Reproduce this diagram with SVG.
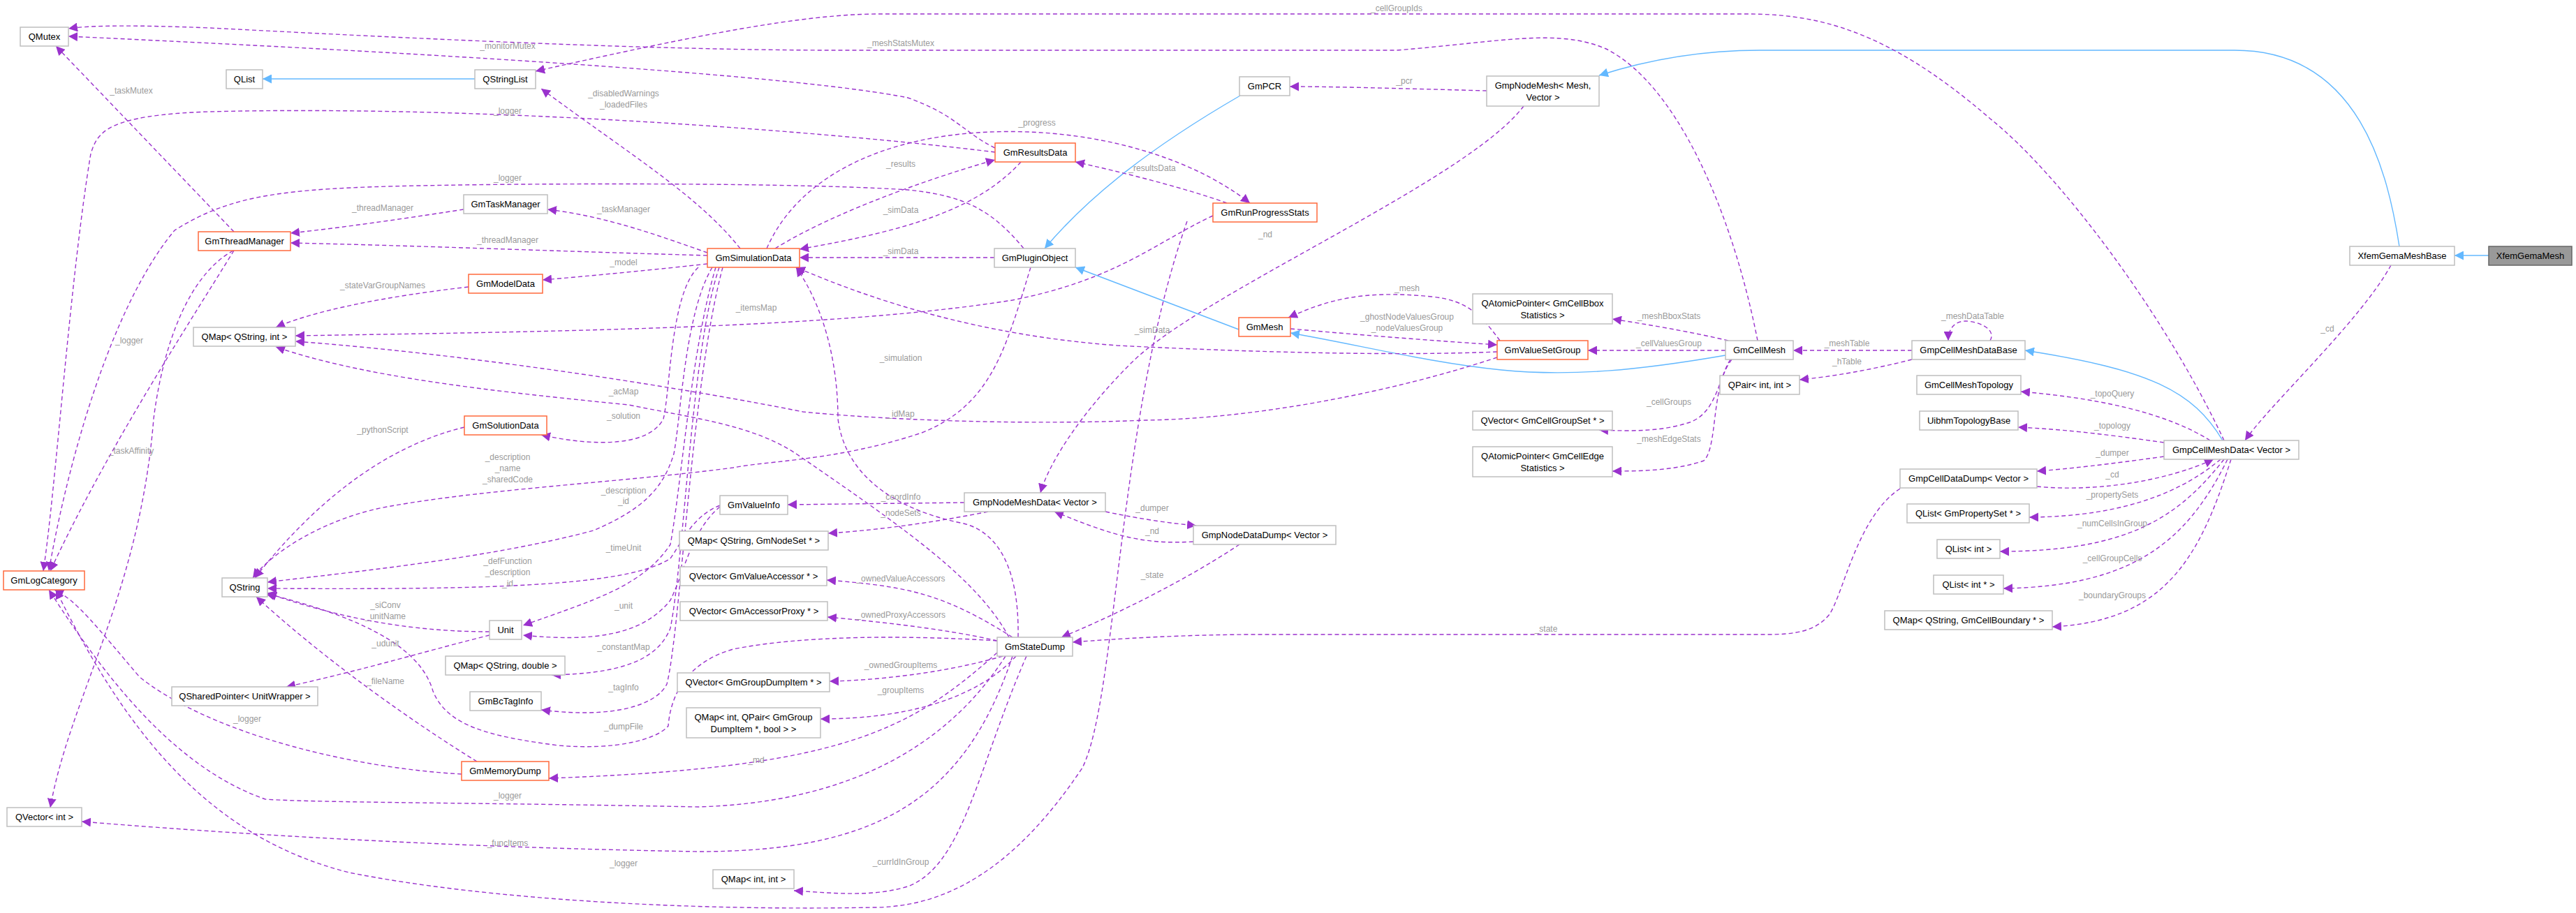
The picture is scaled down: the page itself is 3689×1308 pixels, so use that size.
<svg xmlns="http://www.w3.org/2000/svg" width="3689" height="1308" viewBox="0 0 3689 1308">
<style>
text{font-family:"Liberation Sans",Arial,sans-serif}
.n rect{fill:#fff;stroke:#bfbfbf;stroke-width:1.5}
.n.o rect{stroke:#ff6a3d}
.n.g rect{fill:#999;stroke:#666}
.n text{font-size:13px;text-anchor:middle;fill:#000}
.e{fill:none;stroke:#9a32cd;stroke-width:1.4;stroke-dasharray:6,4;marker-end:url(#ap)}
.i{fill:none;stroke:#63b8ff;stroke-width:1.4;marker-end:url(#ab)}
.l text{font-size:12px;fill:#9a9a9a;text-anchor:middle}
</style>
<defs>
<marker id="ap" viewBox="0 0 10 10" refX="10" refY="5" markerWidth="13" markerHeight="13" markerUnits="userSpaceOnUse" orient="auto"><path d="M0,0L10,5L0,10z" fill="#9a32cd"/></marker>
<marker id="ab" viewBox="0 0 10 10" refX="10" refY="5" markerWidth="13" markerHeight="13" markerUnits="userSpaceOnUse" orient="auto"><path d="M0,0L10,5L0,10z" fill="#63b8ff"/></marker>
</defs>
<rect width="3689" height="1308" fill="#fff"/>
<g id="edges">
<path class="i" d="M3564,366L3515,366"/>
<path class="i" d="M3436,353C3420,250 3380,72 3200,72L2520,72C2420,72 2340,92 2290,108"/>
<path class="e" d="M3424,380C3380,460 3250,580 3215,631"/>
<path class="e" d="M2129,130C2050,128 1920,124 1847,124"/>
<path class="e" d="M2182,152C2100,260 1720,420 1620,520C1540,600 1500,670 1490,706"/>
<path class="i" d="M1776,137C1650,210 1560,280 1496,356"/>
<path class="i" d="M1774,472L1540,383"/>
<path class="i" d="M2471,509C2350,530 2250,540 2150,530C2050,520 1950,495 1848,477"/>
<path class="i" d="M3183,631C3140,560 3080,530 2900,502"/>
<path class="e" d="M3185,631C3100,450 2950,250 2850,170C2700,40 2600,20 2500,20L1260,20C1150,20 1000,50 767,102"/>
<path class="e" d="M2517,488C2480,300 2400,120 2300,70C2230,40 2150,60 2000,72L1200,72C900,72 500,50 300,40C200,36 130,36 98,41"/>
<path class="e" d="M1425,212C1380,190 1370,165 1300,140C1150,110 700,80 98,52"/>
<path class="e" d="M1425,218C1200,190 700,150 300,160C150,165 140,190 130,220C100,400 80,700 62,818"/>
<path class="e" d="M1466,356C1420,300 1380,280 1300,272C1150,262 800,262 600,266C400,270 330,280 250,330C150,450 90,700 70,818"/>
<path class="e" d="M335,359C260,480 150,650 72,818"/>
<path class="e" d="M335,332L80,66"/>
<path class="e" d="M334,359C260,400 230,520 220,600C200,850 100,1000 72,1157"/>
<path class="e" d="M664,300C600,310 500,325 416,334"/>
<path class="e" d="M1013,366C800,360 600,352 416,348"/>
<path class="e" d="M1013,362C950,340 870,310 784,300"/>
<path class="e" d="M1013,378C950,385 850,395 777,401"/>
<path class="e" d="M671,411C550,425 450,445 395,469"/>
<path class="e" d="M1737,309C1650,350 1600,400 1450,430C1200,470 800,475 423,481"/>
<path class="e" d="M2144,512C2000,560 1800,600 1640,602C1450,610 1250,600 1150,590C1000,560 700,510 423,489"/>
<path class="e" d="M1445,913C1400,830 1300,760 1140,650C1080,610 1000,600 900,580C700,560 520,540 395,497"/>
<path class="e" d="M665,612C550,640 450,720 365,828"/>
<path class="e" d="M1000,383C960,420 960,560 950,600C930,640 850,640 775,623"/>
<path class="e" d="M1476,383C1440,500 1420,580 1320,620C1200,660 1100,660 1050,670C900,690 700,700 560,725C470,740 390,790 362,828"/>
<path class="e" d="M1020,383C980,450 975,600 965,650C950,700 920,730 850,760C700,800 500,820 383,834"/>
<path class="e" d="M1031,724C990,740 975,780 960,800C900,840 700,845 383,843"/>
<path class="e" d="M1025,383C990,500 975,700 960,780C920,840 850,860 749,896"/>
<path class="e" d="M1031,726C990,760 980,820 960,860C920,910 850,920 749,910"/>
<path class="e" d="M701,905C600,905 500,890 383,850"/>
<path class="e" d="M701,910C620,930 520,960 410,984"/>
<path class="e" d="M1030,383C990,500 980,800 960,900C940,950 880,965 790,967"/>
<path class="e" d="M1035,383C990,550 975,900 955,980C940,1010 880,1030 775,1017"/>
<path class="e" d="M1428,918C1300,910 1150,910 1050,930C980,950 960,1000 957,1040C940,1060 880,1075 800,1068C700,1055 640,1040 620,990C600,920 500,880 380,850"/>
<path class="e" d="M683,1091C600,1040 470,950 367,855"/>
<path class="e" d="M661,1109C500,1100 300,1050 200,970C140,900 110,860 78,845"/>
<path class="e" d="M1428,935C1300,1050 1200,1100 786,1115"/>
<path class="e" d="M1440,940C1350,1080 1200,1150 1000,1156C700,1150 450,1150 380,1145C250,1100 150,970 70,845"/>
<path class="e" d="M1450,940C1380,1150 1250,1220 1000,1220C700,1215 400,1200 117,1177"/>
<path class="e" d="M1700,317C1600,600 1600,1000 1550,1100C1450,1250 1350,1300 1250,1300C1000,1305 700,1290 500,1250C300,1200 180,1050 80,845"/>
<path class="e" d="M1470,940C1400,1100 1380,1240 1300,1270C1250,1285 1200,1280 1137,1276"/>
<path class="e" d="M1450,913C1350,850 1300,840 1184,831"/>
<path class="e" d="M1428,918C1350,900 1250,890 1185,884"/>
<path class="e" d="M1436,940C1350,965 1250,975 1188,976"/>
<path class="e" d="M1455,940C1400,1000 1300,1030 1175,1030"/>
<path class="e" d="M1458,913C1460,800 1420,760 1380,750C1280,730 1210,680 1200,600C1200,520 1180,440 1140,383"/>
<path class="e" d="M1381,720L1128,723"/>
<path class="e" d="M1415,733C1330,750 1250,760 1186,764"/>
<path class="e" d="M1583,733C1640,745 1680,750 1713,753"/>
<path class="e" d="M1709,776C1640,780 1600,770 1510,733"/>
<path class="e" d="M1775,780C1700,830 1600,880 1520,913"/>
<path class="e" d="M2721,700C2660,740 2640,850 2620,880C2600,905 2570,909 2530,909L1800,909C1700,909 1600,915 1536,920"/>
<path class="e" d="M3099,654C3020,665 2960,672 2917,675"/>
<path class="e" d="M2917,697C3000,705 3100,690 3170,658"/>
<path class="e" d="M3180,658C3130,700 3050,740 2906,741"/>
<path class="e" d="M3185,658C3120,740 3050,790 2864,790"/>
<path class="e" d="M3190,658C3130,780 3050,840 2869,843"/>
<path class="e" d="M3195,658C3150,800 3100,890 2939,898"/>
<path class="e" d="M3165,631C3100,590 3000,570 2894,561"/>
<path class="e" d="M3099,634C3000,620 2950,615 2890,612"/>
<path class="e" d="M2738,502L2568,502"/>
<path class="e" d="M2738,515C2680,530 2620,540 2577,544"/>
<path class="e" d="M2850,488C2860,470 2830,460 2815,460C2800,460 2790,470 2790,488"/>
<path class="e" d="M2471,502L2274,502"/>
<path class="e" d="M2475,488C2420,475 2360,465 2309,457"/>
<path class="e" d="M2480,515C2460,540 2460,590 2420,605C2380,618 2340,618 2290,616"/>
<path class="e" d="M2478,515C2450,560 2460,640 2440,660C2400,674 2350,675 2309,675"/>
<path class="e" d="M2148,488C2120,450 2100,430 2050,425C1950,415 1900,430 1845,455"/>
<path class="e" d="M1848,471C1950,480 2050,488 2144,494"/>
<path class="e" d="M2144,504C2000,510 1800,505 1600,495C1400,480 1250,430 1140,383"/>
<path class="e" d="M1110,356C1200,300 1350,250 1425,229"/>
<path class="e" d="M1462,232C1400,300 1300,330 1145,357"/>
<path class="e" d="M1424,369L1145,369"/>
<path class="e" d="M1757,291C1700,270 1600,245 1540,232"/>
<path class="e" d="M1098,356C1140,260 1250,200 1400,190C1550,180 1700,220 1790,291"/>
<path class="e" d="M1060,356C1000,280 900,220 775,127"/>
<path class="i" d="M680,113L376,113"/>
</g>
<g class="l" id="labels">
<text x="3333" y="475">_cd</text><text x="2011" y="120">_pcr</text><text x="1812" y="340">_nd</text>
<text x="2000" y="16">_cellGroupIds</text><text x="1290" y="66">_meshStatsMutex</text><text x="727" y="70">_monitorMutex</text>
<text x="727" y="163">_logger</text><text x="727" y="259">_logger</text><text x="185" y="492">_logger</text>
<text x="188" y="134">_taskMutex</text><text x="188" y="650">_taskAffinity</text>
<text x="548" y="302">_threadManager</text><text x="727" y="348">_threadManager</text><text x="893" y="304">_taskManager</text>
<text x="893" y="380">_model</text><text x="548" y="413">_stateVarGroupNames</text><text x="1083" y="445">_itemsMap</text>
<text x="1290" y="597">_idMap</text><text x="893" y="565">_acMap</text><text x="548" y="620">_pythonScript</text><text x="893" y="600">_solution</text>
<text x="727" y="659">_description</text><text x="727" y="675">_name</text><text x="727" y="691">_sharedCode</text>
<text x="893" y="707">_description</text><text x="893" y="722">_id</text>
<text x="727" y="808">_defFunction</text><text x="727" y="824">_description</text><text x="727" y="840">_id</text>
<text x="893" y="789">_timeUnit</text><text x="893" y="872">_unit</text>
<text x="552" y="871">_siConv</text><text x="552" y="887">_unitName</text><text x="552" y="926">_udunit</text>
<text x="893" y="931">_constantMap</text><text x="893" y="989">_tagInfo</text><text x="893" y="1045">_dumpFile</text>
<text x="552" y="980">_fileName</text><text x="354" y="1034">_logger</text><text x="1083" y="1093">_md</text>
<text x="727" y="1144">_logger</text><text x="727" y="1212">_funcItems</text><text x="893" y="1241">_logger</text>
<text x="1290" y="1239">_currIdInGroup</text><text x="1290" y="833">_ownedValueAccessors</text><text x="1290" y="885">_ownedProxyAccessors</text>
<text x="1290" y="957">_ownedGroupItems</text><text x="1290" y="993">_groupItems</text><text x="1290" y="517">_simulation</text>
<text x="1290" y="716">_coordInfo</text><text x="1290" y="739">_nodeSets</text><text x="1650" y="732">_dumper</text><text x="1650" y="765">_nd</text>
<text x="1650" y="828">_state</text><text x="2214" y="905">_state</text>
<text x="3025" y="653">_dumper</text><text x="3025" y="684">_cd</text><text x="3025" y="713">_propertySets</text>
<text x="3025" y="754">_numCellsInGroup</text><text x="3025" y="804">_cellGroupCells</text><text x="3025" y="857">_boundaryGroups</text>
<text x="3025" y="568">_topoQuery</text><text x="3025" y="614">_topology</text>
<text x="2645" y="496">_meshTable</text><text x="2645" y="522">_hTable</text><text x="2825" y="457">_meshDataTable</text>
<text x="2390" y="496">_cellValuesGroup</text><text x="2390" y="457">_meshBboxStats</text><text x="2390" y="580">_cellGroups</text><text x="2390" y="633">_meshEdgeStats</text>
<text x="2015" y="417">_mesh</text><text x="2015" y="458">_ghostNodeValuesGroup</text><text x="2015" y="474">_nodeValuesGroup</text>
<text x="1650" y="477">_simData</text><text x="1290" y="239">_results</text><text x="1290" y="305">_simData</text><text x="1290" y="364">_simData</text>
<text x="1650" y="245">_resultsData</text><text x="1485" y="180">_progress</text>
<text x="893" y="138">_disabledWarnings</text><text x="893" y="154">_loadedFiles</text>
</g>
<g id="QMutex" class="n"><rect x="29" y="39" width="69" height="27"/><text x="63.5" y="57">QMutex</text></g>
<g id="QList" class="n"><rect x="324" y="100" width="52" height="27"/><text x="350" y="118">QList</text></g>
<g id="QStringList" class="n"><rect x="680" y="100" width="87" height="27"/><text x="723.5" y="118">QStringList</text></g>
<g id="GmThreadManager" class="n o"><rect x="284" y="332" width="132" height="27"/><text x="350" y="350">GmThreadManager</text></g>
<g id="GmTaskManager" class="n"><rect x="664" y="279" width="120" height="27"/><text x="724" y="297">GmTaskManager</text></g>
<g id="GmModelData" class="n o"><rect x="671" y="393" width="106" height="27"/><text x="724" y="411">GmModelData</text></g>
<g id="QMapQStringInt" class="n"><rect x="277" y="469" width="146" height="27"/><text x="350" y="487">QMap&lt; QString, int &gt;</text></g>
<g id="GmSolutionData" class="n o"><rect x="665" y="596" width="118" height="27"/><text x="724" y="614">GmSolutionData</text></g>
<g id="GmLogCategory" class="n o"><rect x="5" y="818" width="116" height="27"/><text x="63" y="836">GmLogCategory</text></g>
<g id="QString" class="n"><rect x="318" y="828" width="65" height="27"/><text x="350.5" y="846">QString</text></g>
<g id="Unit" class="n"><rect x="701" y="889" width="46" height="27"/><text x="724" y="907">Unit</text></g>
<g id="QMapQStringDouble" class="n"><rect x="638" y="940" width="171" height="27"/><text x="723.5" y="958">QMap&lt; QString, double &gt;</text></g>
<g id="QSharedPointerUnitWrapper" class="n"><rect x="246" y="984" width="209" height="27"/><text x="350.5" y="1002">QSharedPointer&lt; UnitWrapper &gt;</text></g>
<g id="GmBcTagInfo" class="n"><rect x="673" y="991" width="102" height="27"/><text x="724" y="1009">GmBcTagInfo</text></g>
<g id="GmMemoryDump" class="n o"><rect x="661" y="1091" width="125" height="27"/><text x="723.5" y="1109">GmMemoryDump</text></g>
<g id="QVectorInt" class="n"><rect x="10" y="1157" width="107" height="27"/><text x="63.5" y="1175">QVector&lt; int &gt;</text></g>
<g id="GmPCR" class="n"><rect x="1775" y="110" width="72" height="27"/><text x="1811" y="128">GmPCR</text></g>
<g id="GmResultsData" class="n o"><rect x="1425" y="205" width="115" height="27"/><text x="1482.5" y="223">GmResultsData</text></g>
<g id="GmRunProgressStats" class="n o"><rect x="1737" y="291" width="149" height="27"/><text x="1811.5" y="309">GmRunProgressStats</text></g>
<g id="GmSimulationData" class="n o"><rect x="1013" y="356" width="132" height="27"/><text x="1079" y="374">GmSimulationData</text></g>
<g id="GmPluginObject" class="n"><rect x="1424" y="356" width="116" height="27"/><text x="1482" y="374">GmPluginObject</text></g>
<g id="GmMesh" class="n o"><rect x="1774" y="455" width="74" height="27"/><text x="1811" y="473">GmMesh</text></g>
<g id="GmValueInfo" class="n"><rect x="1031" y="710" width="97" height="27"/><text x="1079.5" y="728">GmValueInfo</text></g>
<g id="GmpNodeMeshData" class="n"><rect x="1381" y="706" width="202" height="27"/><text x="1482" y="724">GmpNodeMeshData&lt; Vector &gt;</text></g>
<g id="QMapNodeSet" class="n"><rect x="973" y="761" width="213" height="27"/><text x="1079.5" y="779">QMap&lt; QString, GmNodeSet * &gt;</text></g>
<g id="QVectorValueAccessor" class="n"><rect x="974" y="812" width="210" height="27"/><text x="1079" y="830">QVector&lt; GmValueAccessor * &gt;</text></g>
<g id="QVectorAccessorProxy" class="n"><rect x="974" y="862" width="211" height="27"/><text x="1079.5" y="880">QVector&lt; GmAccessorProxy * &gt;</text></g>
<g id="GmStateDump" class="n"><rect x="1428" y="913" width="108" height="27"/><text x="1482" y="931">GmStateDump</text></g>
<g id="GmpNodeDataDump" class="n"><rect x="1709" y="753" width="204" height="27"/><text x="1811" y="771">GmpNodeDataDump&lt; Vector &gt;</text></g>
<g id="QVectorGroupDumpItem" class="n"><rect x="970" y="964" width="218" height="27"/><text x="1079" y="982">QVector&lt; GmGroupDumpItem * &gt;</text></g>
<g id="QMapIntQPair" class="n"><rect x="983" y="1014" width="192" height="43"/><text x="1079" y="1032">QMap&lt; int, QPair&lt; GmGroup</text><text x="1079" y="1049">DumpItem *, bool &gt; &gt;</text></g>
<g id="QMapIntInt" class="n"><rect x="1021" y="1246" width="116" height="27"/><text x="1079" y="1264">QMap&lt; int, int &gt;</text></g>
<g id="GmpNodeMesh" class="n"><rect x="2129" y="109" width="161" height="43"/><text x="2209.5" y="127">GmpNodeMesh&lt; Mesh,</text><text x="2209.5" y="144">Vector &gt;</text></g>
<g id="QAtomicPointerBbox" class="n"><rect x="2109" y="421" width="200" height="43"/><text x="2209" y="439">QAtomicPointer&lt; GmCellBbox</text><text x="2209" y="456">Statistics &gt;</text></g>
<g id="GmValueSetGroup" class="n o"><rect x="2144" y="488" width="130" height="27"/><text x="2209" y="506">GmValueSetGroup</text></g>
<g id="GmCellMesh" class="n"><rect x="2471" y="488" width="97" height="27"/><text x="2519.5" y="506">GmCellMesh</text></g>
<g id="GmpCellMeshDataBase" class="n"><rect x="2738" y="488" width="162" height="27"/><text x="2819" y="506">GmpCellMeshDataBase</text></g>
<g id="QPairIntInt" class="n"><rect x="2463" y="538" width="114" height="27"/><text x="2520" y="556">QPair&lt; int, int &gt;</text></g>
<g id="GmCellMeshTopology" class="n"><rect x="2745" y="538" width="149" height="27"/><text x="2819.5" y="556">GmCellMeshTopology</text></g>
<g id="QVectorCellGroupSet" class="n"><rect x="2109" y="589" width="200" height="27"/><text x="2209" y="607">QVector&lt; GmCellGroupSet * &gt;</text></g>
<g id="UibhmTopologyBase" class="n"><rect x="2749" y="589" width="141" height="27"/><text x="2819.5" y="607">UibhmTopologyBase</text></g>
<g id="QAtomicPointerEdge" class="n"><rect x="2109" y="640" width="200" height="43"/><text x="2209" y="658">QAtomicPointer&lt; GmCellEdge</text><text x="2209" y="675">Statistics &gt;</text></g>
<g id="XfemGemaMeshBase" class="n"><rect x="3365" y="353" width="150" height="27"/><text x="3440" y="371">XfemGemaMeshBase</text></g>
<g id="XfemGemaMesh" class="n g"><rect x="3564" y="353" width="119" height="27"/><text x="3623.5" y="371">XfemGemaMesh</text></g>
<g id="GmpCellMeshData" class="n"><rect x="3099" y="631" width="193" height="27"/><text x="3195.5" y="649">GmpCellMeshData&lt; Vector &gt;</text></g>
<g id="GmpCellDataDump" class="n"><rect x="2721" y="672" width="196" height="27"/><text x="2819" y="690">GmpCellDataDump&lt; Vector &gt;</text></g>
<g id="QListPropertySet" class="n"><rect x="2731" y="722" width="175" height="27"/><text x="2818.5" y="740">QList&lt; GmPropertySet * &gt;</text></g>
<g id="QListInt" class="n"><rect x="2774" y="773" width="90" height="27"/><text x="2819" y="791">QList&lt; int &gt;</text></g>
<g id="QListIntPtr" class="n"><rect x="2769" y="824" width="100" height="27"/><text x="2819" y="842">QList&lt; int * &gt;</text></g>
<g id="QMapCellBoundary" class="n"><rect x="2699" y="875" width="240" height="27"/><text x="2819" y="893">QMap&lt; QString, GmCellBoundary * &gt;</text></g>
</svg>
